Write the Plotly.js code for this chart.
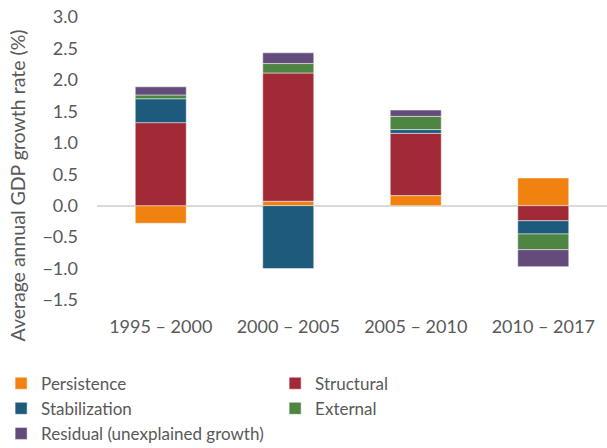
<!DOCTYPE html>
<html>
<head>
<meta charset="utf-8">
<script src="https://cdn.plot.ly/plotly-3.0.1.min.js"></script>
<style>
  html, body { margin: 0; padding: 0; background: #fff; }
  #chart { width: 607px; height: 448px; }
</style>
</head>
<body>
<div id="chart"></div>
<script>
// Periods on the category axis
const periods = ['1995 – 2000', '2000 – 2005', '2005 – 2010', '2010 – 2017'];

// Contributions to average annual GDP growth (percentage points)
const persistence   = [-0.28, 0.07, 0.16, 0.44];
const structural    = [1.32, 2.04, 0.99, -0.24];
const stabilization = [0.38, -1.00, 0.06, -0.21];
const external      = [0.06, 0.15, 0.21, -0.25];
const residual      = [0.13, 0.17, 0.10, -0.27];

const seriesNames  = ['Persistence', 'Structural', 'Stabilization', 'External', 'Residual (unexplained growth)'];
const seriesValues = [persistence, structural, stabilization, external, residual];
const seriesColors = ['#F28210', '#A22A37', '#1E5A7C', '#4E8542', '#634B7B'];

const FONT = 'Lato, "Open Sans", sans-serif';
const GREY = '#595959';

const traces = seriesNames.map((name, i) => ({
  type: 'bar',
  name: name,
  x: periods,
  y: seriesValues[i],
  marker: { color: seriesColors[i], line: { color: 'rgba(255,255,255,0.6)', width: 0.8 } },
  hoverinfo: 'name+y'
}));

const layout = {
  width: 607,
  height: 448,
  margin: { l: 97, r: 0, t: 17, b: 148, autoexpand: false },
  paper_bgcolor: '#ffffff',
  plot_bgcolor: '#ffffff',
  barmode: 'relative',
  bargap: 0.6,
  font: { family: FONT, color: GREY, size: 18 },
  xaxis: {
    type: 'category',
    showgrid: false,
    showline: false,
    zeroline: false,
    ticks: '',
    ticklabelstandoff: 14,
    tickfont: { size: 18, color: GREY }
  },
  yaxis: {
    range: [-1.5, 3.0],
    dtick: 0.5,
    tickformat: '.1f',
    showgrid: false,
    showline: false,
    zeroline: true,
    zerolinecolor: '#d9d9d9',
    zerolinewidth: 2,
    ticks: '',
    ticklabelstandoff: 18,
    tickfont: { size: 18, color: GREY }
  },
  showlegend: true,
  legend: {
    orientation: 'h',
    x: -0.188,
    xanchor: 'left',
    y: -0.232,
    yanchor: 'top',
    traceorder: 'normal',
    entrywidth: 229,
    entrywidthmode: 'pixels',
    font: { size: 17, color: GREY },
    bgcolor: 'rgba(0,0,0,0)'
  },
  annotations: [{
    text: 'Average annual GDP growth rate (%)',
    textangle: -90,
    xref: 'paper', yref: 'paper',
    x: 0, xshift: -80,
    y: 0.5, yshift: -27,
    xanchor: 'center', yanchor: 'middle',
    showarrow: false,
    font: { size: 19.5, color: GREY, family: FONT }
  }]
};

Plotly.newPlot('chart', traces, layout, { displayModeBar: false, staticPlot: true });
</script>
</body>
</html>
